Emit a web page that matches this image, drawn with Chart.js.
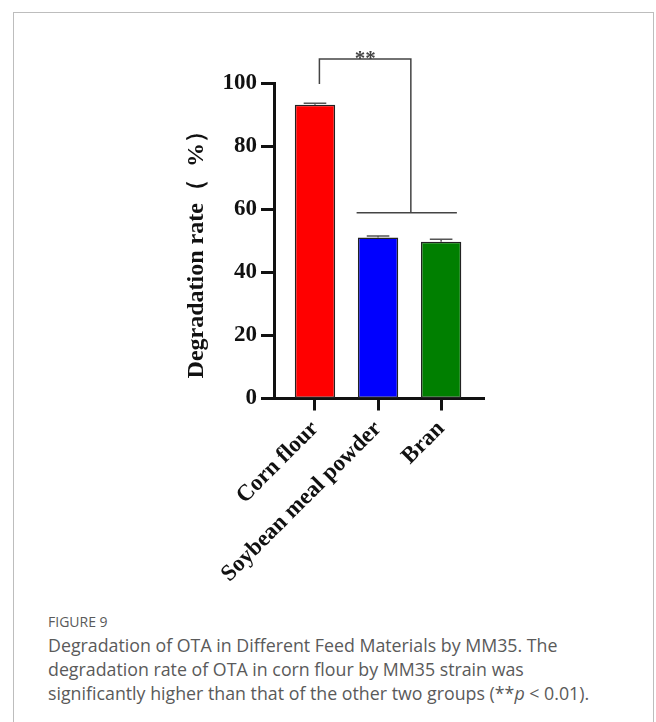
<!DOCTYPE html>
<html>
<head>
<meta charset="utf-8">
<script src="https://cdn.jsdelivr.net/npm/chart.js@4.4.1/dist/chart.umd.min.js"></script>
<style>
    html, body { margin: 0; padding: 0; background: #fff; }
    body { width: 656px; height: 722px; position: relative; overflow: hidden; }
    .frame {
        position: absolute; left: 13px; top: 12px; width: 641px; height: 730px;
        border: 1.5px solid #bdbdbd; border-bottom: none; box-sizing: border-box;
    }
    #degChart { position: absolute; left: 0; top: 0; }
    .caption {
        position: absolute; left: 48px; top: 613px; width: 600px;
        font-family: 'Open Sans', sans-serif; color: #5a5a5a;
    }
    .caption .fig { font-size: 14px; line-height: 18px; }
    .caption .txt { font-size: 17.8px; line-height: 24px; margin-top: 2px; white-space: nowrap; }
</style>
</head>
<body>
<div class="frame"></div>
<canvas id="degChart" width="656" height="604"></canvas>
<div class="caption">
    <div class="fig">FIGURE 9</div>
    <div class="txt">Degradation of OTA in Different Feed Materials by MM35. The<br>degradation rate of OTA in corn flour by MM35 strain was<br>significantly higher than that of the other two groups (**<i>p</i> &lt; 0.01).</div>
</div>
<script>
const categories = ['Corn flour', 'Soybean meal powder', 'Bran'];
const rates      = [93.1, 51.0, 49.7];
const errors     = [0.5, 0.5, 0.8];
const barColors  = ['#ff0000', '#0000ff', '#007f00'];
const yTicks     = [0, 20, 40, 60, 80, 100];

// significance bracket, in data units (x = category index, y = %)
const sigLabel = '**';
const sigLeftX = 0.07, sigRightX = 1.52;
const sigGroupFrom = 0.66, sigGroupTo = 2.25;
const sigTop = 107.6, sigLeftEnd = 99.7, sigGroupY = 58.9;

const SERIF = "'Liberation Serif', 'Times New Roman', serif";
const INK = '#111';

const overlay = {
    id: 'overlay',
    afterDatasetsDraw(chart) {
        const { ctx, scales: { x, y } } = chart;
        const meta = chart.getDatasetMeta(0);
        ctx.save();

        // error bars
        ctx.strokeStyle = '#555';
        ctx.lineWidth = 1.5;
        meta.data.forEach((bar, i) => {
            const top = y.getPixelForValue(rates[i] + errors[i]);
            const half = bar.width * 0.28;
            ctx.beginPath();
            ctx.moveTo(bar.x, bar.y);
            ctx.lineTo(bar.x, top);
            ctx.moveTo(bar.x - half, top);
            ctx.lineTo(bar.x + half, top);
            ctx.stroke();
        });

        // significance bracket
        const xl = x.getPixelForValue(sigLeftX);
        const xr = x.getPixelForValue(sigRightX);
        const yt = y.getPixelForValue(sigTop);
        ctx.strokeStyle = '#444';
        ctx.lineWidth = 1.5;
        ctx.beginPath();
        ctx.moveTo(xl, y.getPixelForValue(sigLeftEnd));
        ctx.lineTo(xl, yt);
        ctx.lineTo(xr, yt);
        ctx.lineTo(xr, y.getPixelForValue(sigGroupY));
        ctx.moveTo(x.getPixelForValue(sigGroupFrom), y.getPixelForValue(sigGroupY));
        ctx.lineTo(x.getPixelForValue(sigGroupTo), y.getPixelForValue(sigGroupY));
        ctx.stroke();

        ctx.fillStyle = '#444';
        ctx.font = `bold 21px ${SERIF}`;
        ctx.textAlign = 'center';
        ctx.textBaseline = 'alphabetic';
        ctx.fillText(sigLabel, (xl + xr) / 2, yt + 6);

        // y axis title
        ctx.fillStyle = INK;
        ctx.font = `bold 24px ${SERIF}`;
        ctx.translate(197, (y.top + y.bottom) / 2 + 8);
        ctx.rotate(-Math.PI / 2);
        ctx.textBaseline = 'middle';
        ctx.fillText('Degradation rate（  %）', 0, 0);
        ctx.restore();
    }
};

new Chart(document.getElementById('degChart').getContext('2d'), {
    type: 'bar',
    data: {
        datasets: [{
            data: rates.map((v, i) => ({ x: i, y: v })),
            backgroundColor: barColors,
            borderColor: '#222',
            borderWidth: 1.5,
            borderSkipped: false,
            barPercentage: 0.8,
            categoryPercentage: 0.8,
        }],
    },
    options: {
        responsive: false,
        animation: false,
        layout: { padding: { left: 0, top: 83, right: 172, bottom: 0 } },
        plugins: { legend: { display: false }, tooltip: { enabled: false } },
        scales: {
            x: {
                type: 'linear',
                offset: false,
                min: -0.65,
                max: 2.68,
                afterFit: s => { s.height = 604 - 398.5; },
                afterBuildTicks: s => { s.ticks = categories.map((_, i) => ({ value: i })); },
                border: { display: true, width: 3, color: INK },
                grid: { offset: false, drawOnChartArea: false, drawTicks: true, tickLength: 12, tickWidth: 3, tickColor: INK },
                ticks: {
                    autoSkip: false,
                    minRotation: 45,
                    maxRotation: 45,
                    padding: 5,
                    color: INK,
                    font: { family: SERIF, size: 23, weight: 'bold' },
                    callback: v => categories[v],
                },
            },
            y: {
                min: 0,
                max: 100,
                afterFit: s => { s.width = 274; },
                afterBuildTicks: s => { s.ticks = yTicks.map(v => ({ value: v })); },
                border: { display: true, width: 3, color: INK },
                grid: { drawOnChartArea: false, drawTicks: true, tickLength: 13, tickWidth: 3, tickColor: INK },
                ticks: {
                    padding: 4,
                    color: INK,
                    font: { family: SERIF, size: 23, weight: 'bold' },
                },
            },
        },
    },
    plugins: [overlay],
});
</script>
</body>
</html>
